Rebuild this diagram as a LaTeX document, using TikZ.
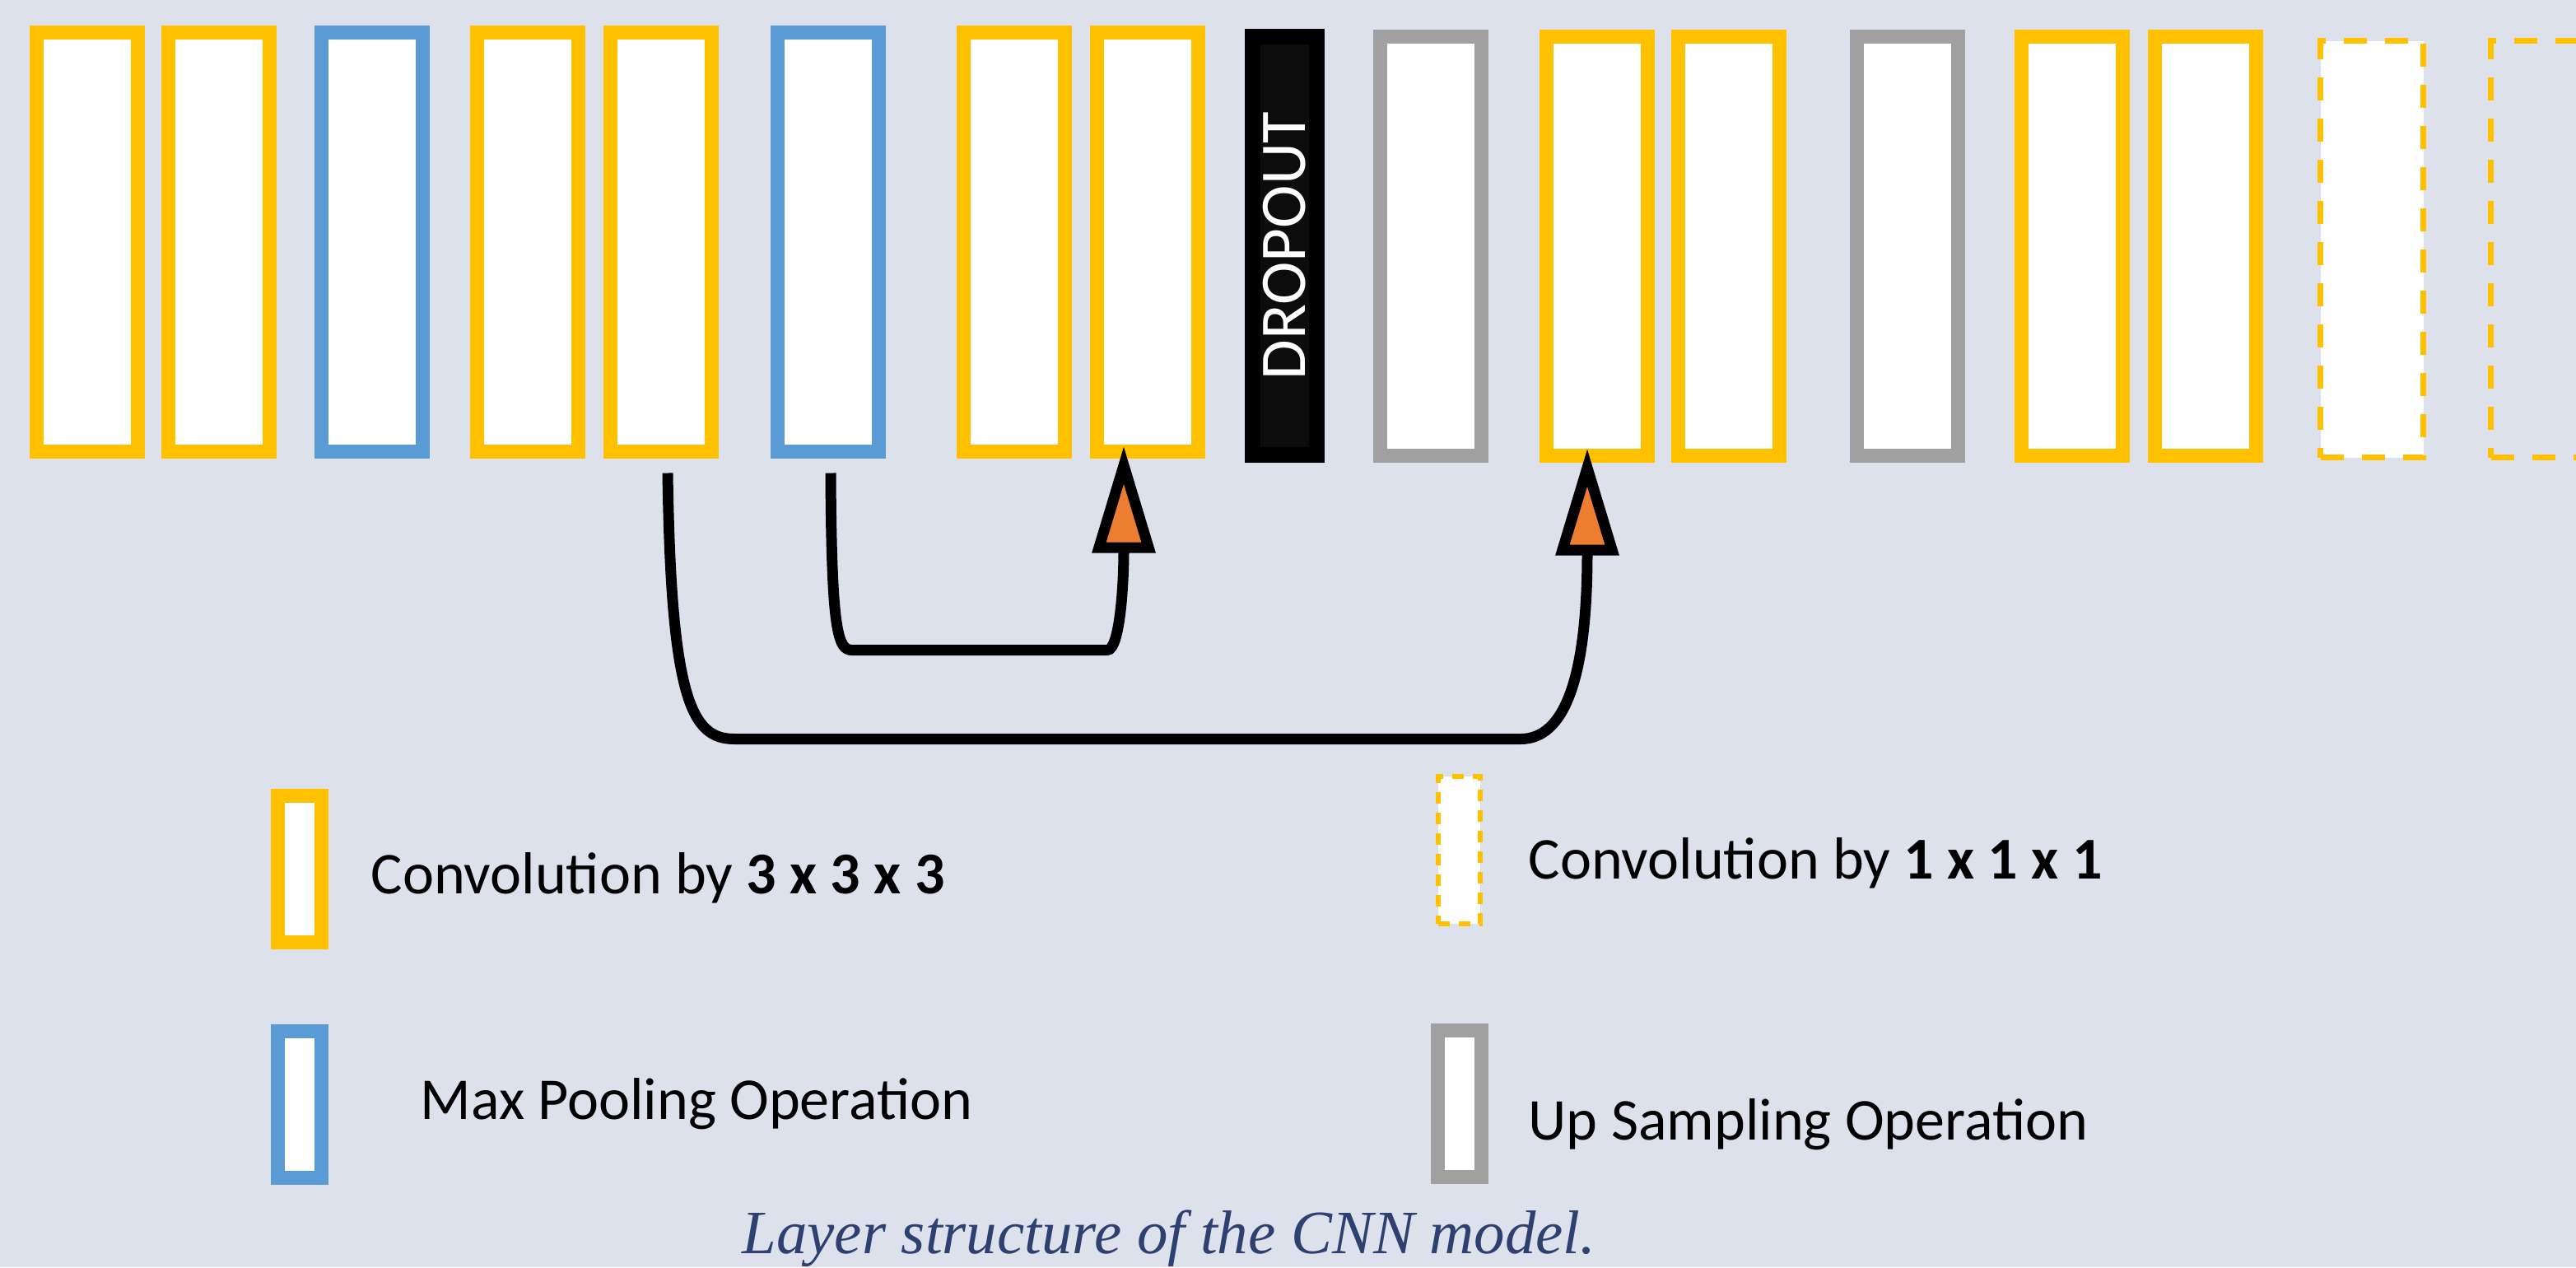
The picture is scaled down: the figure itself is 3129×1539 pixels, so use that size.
\documentclass[tikz,border=0pt]{standalone}
\usepackage{fontspec}
\newfontfamily\legfont{Carlito}
\newfontfamily\capfont{Liberation Serif}
\usetikzlibrary{arrows.meta}
\definecolor{bgblue}{RGB}{221,225,235}
\definecolor{convyellow}{RGB}{255,192,0}
\definecolor{poolblue}{RGB}{91,155,213}
\definecolor{upgray}{RGB}{160,160,160}
\definecolor{arroworange}{RGB}{237,125,49}
\definecolor{capblue}{RGB}{46,64,112}
\definecolor{dropgray}{RGB}{12,12,12}

\begin{document}
\begin{tikzpicture}[x=0.1mm,y=-0.1mm,
  conv/.style={draw=convyellow,fill=white,line width=1.7mm,minimum width=12.3mm,minimum height=50.9mm,inner sep=0pt},
  pool/.style={conv,draw=poolblue},
  upsm/.style={conv,draw=upgray},
  onebyone/.style={draw=convyellow,line width=.7mm,dash pattern=on 2.8mm off 2.2mm,minimum width=12.5mm,minimum height=50.6mm,inner sep=0pt},
  legbox/.style={minimum width=5.3mm,minimum height=17.8mm},
  legtext/.style={font=\legfont\fontsize{20.5pt}{24pt}\selectfont,anchor=base west,inner sep=0pt},
  skip/.style={line width=1.3mm,-{Triangle[length=13mm,width=7.4mm,fill=arroworange]}}]
  \useasboundingbox (0,0) rectangle (3129,1539);
  \fill[bgblue] (0,0) rectangle (3129,1539);
  % layers
  \node[conv] (c1) at (105.5,294) {};
  \node[conv] (c2) at (266,294) {};
  \node[pool] (p1) at (452,294) {};
  \node[conv] (c3) at (641,294) {};
  \node[conv] (c4) at (803,294) {};
  \node[pool] (p2) at (1005.5,294) {};
  \node[conv] (c5) at (1231.5,294) {};
  \node[conv] (c6) at (1393.5,294) {};
  \node[draw=black,fill=dropgray,line width=1.9mm,rotate=90,minimum width=50.8mm,minimum height=7.8mm,inner sep=0pt,
        text=white,font=\legfont\fontsize{22.5pt}{24pt}\selectfont] (drop) at (1560.5,298.5) {DROPOUT};
  \node[upsm] (u1) at (1738,298.5) {};
  \node[conv] (c7) at (1939.5,298.5) {};
  \node[conv] (c8) at (2099.5,298.5) {};
  \node[upsm] (u2) at (2316.5,298.5) {};
  \node[conv] (c9) at (2516.5,298.5) {};
  \node[conv] (c10) at (2678.5,298.5) {};
  \node[onebyone,fill=white] (o1) at (2881,302.5) {};
  \node[onebyone] (o2) at (3088,302.5) {};
  % skip connections
  \coordinate (a1) at ([xshift=.8mm,yshift=-1.75mm]c4.south);
  \coordinate (a2) at ([xshift=-1.15mm,yshift=1.7mm]c7.south);
  \coordinate (a3) at ([xshift=.35mm,yshift=-1.75mm]p2.south);
  \coordinate (a4) at ([xshift=-2.85mm,yshift=1.55mm]c6.south);
  \draw[skip] (a1) .. controls +(4,275) and +(-52,0) .. ++(81,323) -- ++(955,0)
    .. controls +(53,0) and +(0,280) .. (a2);
  \draw[skip] (a3) .. controls +(1,195) and +(-17,0) .. ++(26,215) -- ++(310,0)
    .. controls +(15,0) and +(0,170) .. (a4);
  % legend
  \node[conv,legbox] (k1) at (364,1055.5) {};
  \node[pool,legbox] (k2) at (364,1341) {};
  \node[onebyone,fill=white,line width=.6mm,dash pattern=on 1.4mm off 1.1mm,minimum width=5.1mm,minimum height=17.9mm] (k3) at (1772.5,1032.5) {};
  \node[upsm,legbox] (k4) at (1772.5,1340.5) {};
  \node[legtext] (t1) at (450,1085) {Convolution by \textbf{3 x 3 x 3}};
  \node[legtext] (t2) at (510,1359) {Max Pooling Operation};
  \node[legtext] (t3) at (1856,1067) {Convolution by \textbf{1 x 1 x 1}};
  \node[legtext] (t4) at (1856,1384) {Up Sampling Operation};
  \node[font=\capfont\itshape\fontsize{21.3pt}{24pt}\selectfont,text=capblue,anchor=base,inner sep=0pt] (cap) at (1420,1522) {Layer structure of the CNN model.};
\end{tikzpicture}
\end{document}
